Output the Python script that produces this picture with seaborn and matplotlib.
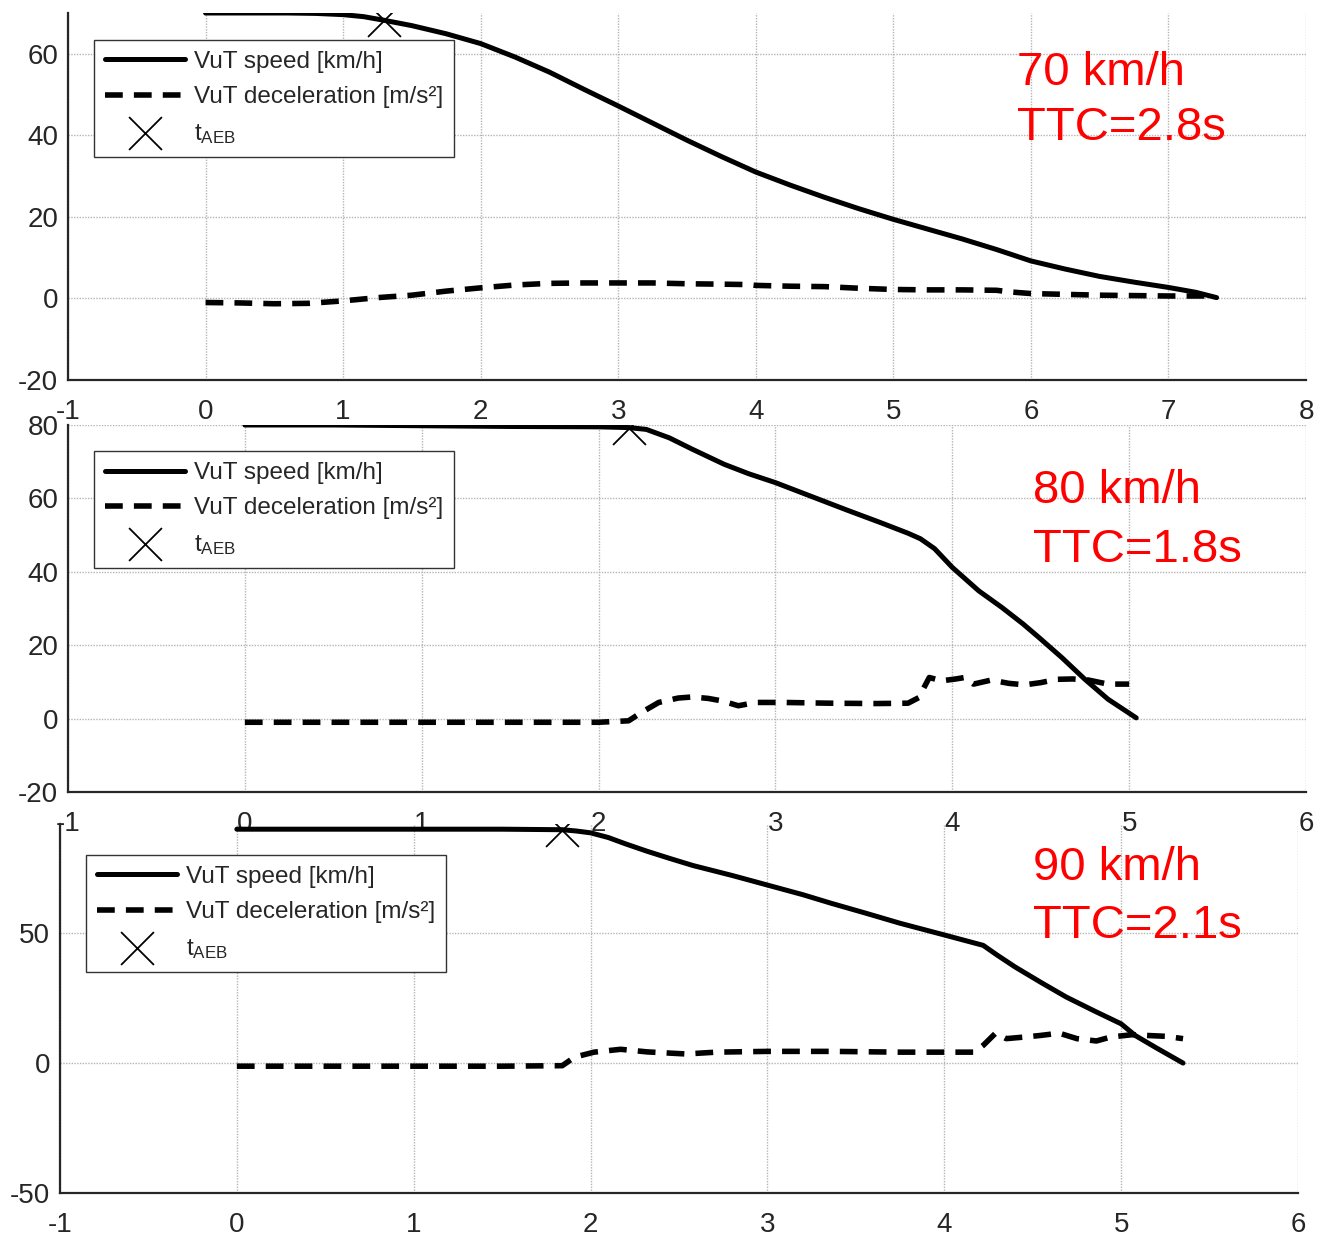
import numpy as np
import pandas as pd
import matplotlib
matplotlib.use("Agg")
import matplotlib.pyplot as plt
import seaborn as sns

# ---------------- data ----------------
# 70 km/h, TTC = 2.8 s
t70_speed = [0, 0.3, 0.6, 0.8, 1.0, 1.15, 1.3, 1.5, 1.75, 2.0, 2.25, 2.5, 2.75, 3.0, 3.25, 3.5,
             3.75, 4.0, 4.25, 4.5, 4.75, 5.0, 5.25, 5.5, 5.75, 6.0, 6.25, 6.5, 6.75, 7.0, 7.2, 7.35]
v70 = [70, 70, 70, 69.9, 69.6, 69.1, 68.2, 66.9, 64.9, 62.5, 59.2, 55.5, 51.3, 47.2, 43.0, 38.8,
       34.8, 31.0, 27.8, 24.8, 22.0, 19.4, 17.0, 14.6, 12.0, 9.2, 7.2, 5.4, 4.0, 2.7, 1.5, 0.2]
t70_dec = [0, 0.25, 0.5, 0.75, 1.0, 1.25, 1.5, 1.75, 2.0, 2.25, 2.5, 2.75, 3.0, 3.25, 3.5, 3.75,
           3.95, 4.0, 4.25, 4.5, 4.75, 5.0, 5.25, 5.5, 5.75, 5.85, 6.0, 6.25, 6.5, 6.75, 7.0, 7.3]
a70 = [-1.0, -1.1, -1.3, -1.2, -0.6, 0.2, 0.8, 1.8, 2.6, 3.3, 3.7, 3.8, 3.8, 3.8, 3.6, 3.5,
       3.4, 3.2, 3.0, 2.9, 2.5, 2.2, 2.1, 2.1, 2.0, 1.6, 1.2, 1.0, 0.8, 0.7, 0.6, 0.6]
aeb70 = (1.30, 68.2)

# 80 km/h, TTC = 1.8 s
t80_speed = [0, 0.5, 1.0, 1.5, 2.0, 2.17, 2.27, 2.4, 2.53, 2.71, 2.85, 3.0, 3.2, 3.4, 3.6, 3.75,
             3.82, 3.9, 4.0, 4.15, 4.28, 4.4, 4.49, 4.62, 4.75, 4.88, 5.04]
v80 = [80, 80, 79.8, 79.6, 79.5, 79.3, 78.8, 76.5, 73.4, 69.3, 66.7, 64.3, 60.6, 56.9, 53.3, 50.5,
       49.0, 46.3, 41.2, 34.8, 30.3, 25.8, 22.1, 16.6, 10.7, 5.3, 0.2]
t80_dec = [0, 0.5, 1.0, 1.5, 2.0, 2.17, 2.24, 2.34, 2.45, 2.53, 2.62, 2.7, 2.79, 2.89, 3.05, 3.3,
           3.57, 3.75, 3.81, 3.87, 3.94, 4.02, 4.07, 4.12, 4.22, 4.32, 4.41, 4.5, 4.59, 4.68, 4.77,
           4.88, 5.0]
a80 = [-1.0, -1.0, -1.0, -1.0, -1.0, -0.6, 1.6, 4.4, 5.6, 5.9, 5.5, 4.8, 3.5, 4.4, 4.4, 4.2,
       4.1, 4.2, 5.7, 11.2, 10.3, 10.8, 11.2, 9.4, 10.5, 9.6, 9.2, 9.8, 10.7, 10.8, 10.5,
       9.4, 9.4]
aeb80 = (2.17, 79.3)

# 90 km/h, TTC = 2.1 s
t90_speed = [0, 0.5, 1.0, 1.5, 1.84, 1.92, 2.0, 2.1, 2.2, 2.32, 2.45, 2.58, 2.8, 3.0, 3.2, 3.36,
             3.55, 3.75, 4.0, 4.22, 4.3, 4.4, 4.55, 4.69, 4.85, 5.0, 5.08, 5.2, 5.35]
v90 = [90, 90, 90, 90, 89.8, 89.3, 88.6, 86.8, 84.3, 81.5, 78.7, 76.0, 72.2, 68.5, 64.8, 61.5,
       57.8, 53.8, 49.3, 45.3, 41.5, 37.0, 30.9, 25.4, 20.0, 15.1, 10.6, 5.8, 0]
t90_dec = [0, 0.5, 1.0, 1.5, 1.84, 1.91, 2.02, 2.17, 2.32, 2.54, 2.71, 3.0, 3.36, 3.75, 4.17,
           4.22, 4.29, 4.35, 4.45, 4.54, 4.65, 4.75, 4.86, 4.94, 5.06, 5.25, 5.35]
a90 = [-1.2, -1.2, -1.2, -1.2, -1.0, 2.3, 4.2, 5.3, 4.3, 3.5, 4.2, 4.5, 4.5, 4.2, 4.2,
       6.8, 11.5, 9.4, 10.0, 10.6, 11.5, 9.4, 8.5, 10.0, 10.9, 10.3, 9.4]
aeb90 = (1.84, 89.8)

speed_label = "VuT speed [km/h]"
dec_label = "VuT deceleration [m/s²]"
aeb_label = "t$_{\\mathregular{AEB}}$"
annot = [["70 km/h", "TTC=2.8s"], ["80 km/h", "TTC=1.8s"], ["90 km/h", "TTC=2.1s"]]

# ---------------- style ----------------
sns.set_style("white")
plt.rcParams['font.family'] = ['Liberation Sans', 'DejaVu Sans']
plt.rcParams['mathtext.fontset'] = 'custom'
plt.rcParams['mathtext.rm'] = 'Liberation Sans'
plt.rcParams['mathtext.it'] = 'Liberation Sans'
plt.rcParams['axes.unicode_minus'] = False

W, H = 1324, 1236
fig = plt.figure(figsize=(W / 100, H / 100), dpi=100)
fig.patch.set_facecolor("white")


def px_axes(left, right, top, bottom):
    return fig.add_axes([left / W, 1 - bottom / H, (right - left) / W, (bottom - top) / H])


panels = [
    dict(box=(68, 1306, 13, 380), xlim=(-1, 8), ylim=(-20, 70), yticks=[-20, 0, 20, 40, 60],
         xticks=list(range(-1, 9)), ts=t70_speed, v=v70, td=t70_dec, a=a70, aeb=aeb70,
         leg=(0.021, 0.9264), txt=(0.7666, 0.804, 0.654), facecolor="white"),
    dict(box=(68, 1306, 425, 792), xlim=(-1, 6), ylim=(-20, 80), yticks=[-20, 0, 20, 40, 60, 80],
         xticks=list(range(-1, 7)), ts=t80_speed, v=v80, td=t80_dec, a=a80, aeb=aeb80,
         leg=(0.021, 0.929), txt=(0.7795, 0.7875, 0.6267), facecolor="white"),
    dict(box=(60, 1298, 824, 1193), xlim=(-1, 6), ylim=(-50, 92), yticks=[-50, 0, 50],
         xticks=list(range(-1, 7)), ts=t90_speed, v=v90, td=t90_dec, a=a90, aeb=aeb90,
         leg=(0.021, 0.916), txt=(0.786, 0.848, 0.691), facecolor="none"),
]

dark = "#262626"
for i, p in enumerate(panels):
    ax = px_axes(*p["box"])
    ax.set_facecolor(p["facecolor"])
    ax.set_xlim(*p["xlim"])
    ax.set_ylim(*p["ylim"])
    ax.set_xticks(p["xticks"])
    ax.set_yticks(p["yticks"])
    ax.grid(True, color="#b5b5b5", linewidth=1.0, linestyle=(0, (1, 1)))
    ax.set_axisbelow(True)
    for s in ["top", "right"]:
        ax.spines[s].set_visible(False)
    for s in ["left", "bottom"]:
        ax.spines[s].set_color(dark)
        ax.spines[s].set_linewidth(1.6)
    ax.tick_params(axis="both", direction="in", length=9, width=1.4, colors=dark,
                   labelsize=20, labelcolor=dark)
    ax.tick_params(axis="x", pad=14)
    ax.tick_params(axis="y", pad=7)

    sns.lineplot(x=p["ts"], y=p["v"], ax=ax, color="black", linewidth=3.6,
                 estimator=None, sort=False, label=speed_label)
    sns.lineplot(x=p["td"], y=p["a"], ax=ax, color="black", linewidth=4.0,
                 estimator=None, sort=False, label=dec_label,
                 linestyle=(0, (3.2, 2.0)))
    sns.scatterplot(x=[p["aeb"][0]], y=[p["aeb"][1]], ax=ax, marker="x", s=560,
                    color="black", linewidth=1.3, label=aeb_label, zorder=5)
    ax.set_xlabel("")
    ax.set_ylabel("")

    leg = ax.legend(loc="upper left", bbox_to_anchor=p["leg"], borderaxespad=0,
                    fontsize=17.5, frameon=True, fancybox=False, edgecolor="#333333",
                    handlelength=3.3, handletextpad=0.35, labelspacing=0.55,
                    borderpad=0.45, framealpha=1)
    leg.get_frame().set_linewidth(1.0)

    tx, ty1, ty2 = p["txt"]
    ax.text(tx, ty1, annot[i][0], transform=ax.transAxes, color="red",
            fontsize=34, va="baseline", ha="left")
    ax.text(tx, ty2, annot[i][1], transform=ax.transAxes, color="red",
            fontsize=34, va="baseline", ha="left")

fig.savefig("out.png", dpi=100, facecolor="white")
